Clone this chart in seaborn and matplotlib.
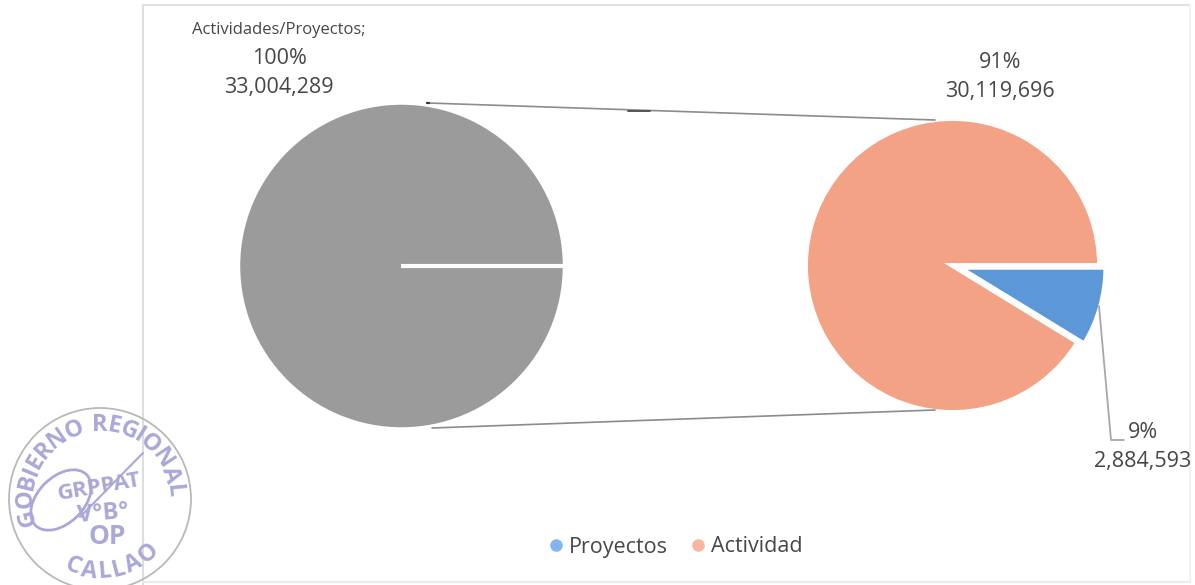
import numpy as np
import matplotlib.pyplot as plt
from matplotlib.font_manager import FontProperties
from matplotlib.lines import Line2D
from matplotlib.patches import Circle, Ellipse
from matplotlib.textpath import TextPath
import seaborn as sns

# values
total_label = "Actividades/Proyectos"
total_value = [33004289]
categories = ["Proyectos", "Actividad"]
values = [2884593, 30119696]
percent_labels = ["9%", "91%"]
value_labels = ["2,884,593", "30,119,696"]
total_pct = "100%"
total_text = "33,004,289"

GRAY = "#9b9b9b"
BLUE = "#5c97d8"
ORANGE = "#f4a285"
TEXT = "#474747"
STAMP = "#a9a8d8"

sns.set_theme(style="white")
plt.rcParams['font.family'] = ['Open Sans', 'DejaVu Sans']

fig = plt.figure(figsize=(11.95, 5.85), dpi=100)
ax = fig.add_axes([0, 0, 1, 1])

# left pie, a full circle has no radial edge so the white cut is drawn after
ax.pie(total_value, colors=[GRAY], center=(401.5, 266), radius=163,
       startangle=0, wedgeprops={'edgecolor': 'white', 'linewidth': 2.5})
ax.plot([401, 568], [266, 266], color='white', lw=3, solid_capstyle='butt')

# right pie, y axis is inverted below so this runs clockwise on screen
# explode is in data units here because the radius is in pixels
ax.pie(values, colors=[BLUE, ORANGE], center=(952.5, 265.5), radius=147,
       explode=[6.6, 0], startangle=0,
       wedgeprops={'edgecolor': 'white', 'linewidth': 3.5})

ax.set_aspect('equal')
ax.set_xlim(0, 1195)
ax.set_ylim(585, 0)
ax.axis('off')

# chart frame
for xs, ys, col in [((143, 143), (5, 585), '#dedede'), ((143, 1190), (5, 5), '#e2e2e2'),
                    ((1190, 1190), (5, 582), '#f2f2f2'), ((143, 1190), (582, 582), '#ececec')]:
    ax.plot(xs, ys, color=col, lw=1.5, zorder=0)

# connectors between the pies
ax.plot([428, 935], [103, 120], color='#8c8c8c', lw=1.2)
ax.plot([432, 935], [428, 410], color='#8c8c8c', lw=1.2)
ax.plot([427, 429], [103, 103], color='#333333', lw=1.6)
ax.plot([628, 650], [110.5, 110.5], color='#555555', lw=1.4)

# leader of the 9% label
ax.plot([1099, 1111, 1124], [306, 440, 440], color='#a8a8a8', lw=1.3)

# labels
ax.text(279, 30, total_label + ";", ha='center', va='center', fontsize=12, color=TEXT)
ax.text(279, 58, total_pct, ha='center', va='center', fontsize=15.5, color=TEXT)
ax.text(279, 87, total_text, ha='center', va='center', fontsize=15.5, color=TEXT)
ax.text(1000, 63, percent_labels[1], ha='center', va='center', fontsize=15.5, color=TEXT)
ax.text(1000, 92, value_labels[1], ha='center', va='center', fontsize=15.5, color=TEXT)
ax.text(1143, 432, percent_labels[0], ha='center', va='center', fontsize=15.5, color=TEXT)
ax.text(1143, 461, value_labels[0], ha='center', va='center', fontsize=15.5, color=TEXT)

# legend
handles = [Line2D([], [], ls='', marker='o', ms=8, color=c) for c in ['#82b4ee', '#f9b5a0']]
leg = ax.legend(handles, categories, loc='center', bbox_to_anchor=(674, 547),
                bbox_transform=ax.transData, ncol=2, frameon=False, fontsize=15.5,
                handlelength=1.0, handletextpad=0.1, columnspacing=0.9)
for t in leg.get_texts():
    t.set_color(TEXT)

# stamp
cx, cy = 100, 499
ax.add_patch(Circle((cx, cy), 91, fill=False, ec='#b9b9b9', lw=1.3))
ax.add_patch(Ellipse((61, 500), 72, 46, angle=-45, fill=False, ec=STAMP, lw=2))
ax.plot([80, 143], [517, 453], color=STAMP, lw=1.5)

stamp_font = FontProperties(family='Open Sans', weight='bold')


def arc_text(text, start, stop, radius, bottom=False):
    # spread the letters by their own width so narrow ones do not leave gaps
    widths = [TextPath((0, 0), ch, size=17, prop=stamp_font).get_extents().width + 3
              if ch != ' ' else 6 for ch in text]
    edges = np.cumsum([0] + widths)
    centres = (edges[:-1] + edges[1:]) / 2
    angles = start + (stop - start) * (centres - centres[0]) / (centres[-1] - centres[0])
    for ch, th in zip(text, angles):
        rad = np.radians(th)
        x = cx + radius * np.sin(rad)
        y = cy - radius * np.cos(rad)
        rot = 180 - th if bottom else -th
        ax.text(x, y, ch, ha='center', va='center', rotation=rot, fontsize=17,
                fontweight='bold', color=STAMP)


arc_text("GOBIERNO REGIONAL", -104, 84, 74)
arc_text("CALLAO", 202, 138, 73, bottom=True)
ax.text(99, 487, "GRPPAT", ha='center', va='center', rotation=10, fontsize=16,
        fontweight='bold', color=STAMP)
ax.text(103, 514, "V°B°", ha='center', va='center', rotation=5, fontsize=17,
        fontweight='bold', color=STAMP)
ax.text(107, 537, "OP", ha='center', va='center', fontsize=19, fontweight='bold', color=STAMP)

fig.savefig('out.png', dpi=100, facecolor='white')
